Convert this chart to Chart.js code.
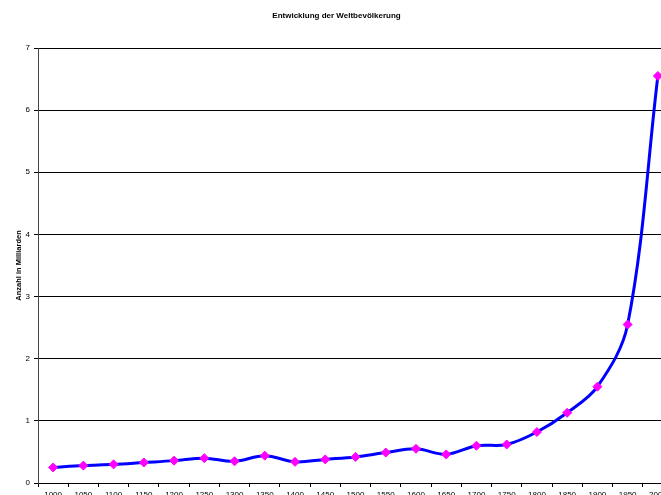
<!DOCTYPE html>
<html>
<head>
<meta charset="utf-8">
<script src="https://cdn.jsdelivr.net/npm/chart.js@4/dist/chart.umd.min.js"></script>
<style>
  html, body { margin: 0; padding: 0; background: #fff; overflow: hidden; }
  #wrap { width: 661px; height: 495px; overflow: hidden; position: relative; }
  canvas { display: block; }
</style>
</head>
<body>
<div id="wrap"><canvas id="c" width="680" height="505"></canvas></div>
<script>
// Weltbevölkerung in Milliarden, alle 50 Jahre
const years = ['1000','1050','1100','1150','1200','1250','1300','1350','1400','1450',
               '1500','1550','1600','1650','1700','1750','1800','1850','1900','1950','2000'];
const population = [0.25, 0.28, 0.30, 0.33, 0.36, 0.40, 0.35, 0.44, 0.34, 0.38,
                    0.42, 0.49, 0.55, 0.46, 0.60, 0.62, 0.82, 1.13, 1.55, 2.55, 6.55];
const yTicks = [0, 1, 2, 3, 4, 5, 6, 7];

const titleText = 'Entwicklung der Weltbevölkerung';
const yAxisTitle = 'Anzahl in Milliarden';
const FONT = '"Liberation Sans", Arial, sans-serif';

new Chart(document.getElementById('c'), {
  type: 'line',
  data: {
    labels: years,
    datasets: [{
      data: population,
      borderColor: '#0000FF',
      borderWidth: 3,
      tension: 0.35,
      fill: false,
      pointStyle: 'rectRot',
      pointRadius: 4.5,
      pointBackgroundColor: '#FF00FF',
      pointBorderColor: '#FF00FF',
      pointBorderWidth: 1
    }]
  },
  options: {
    responsive: false,
    animation: false,
    layout: { padding: { left: 0, right: 7, top: 0, bottom: 0 } },
    plugins: {
      legend: { display: false },
      tooltip: { enabled: false },
      title: {
        display: true,
        text: titleText,
        color: '#000',
        font: { family: FONT, size: 8, weight: 'bold', lineHeight: 1.2 },
        padding: { top: 11, bottom: 27.4 }
      }
    },
    scales: {
      x: {
        type: 'category',
        offset: true,
        afterFit: (scale) => { scale.height = 22; },
        grid: {
          offset: true,
          drawOnChartArea: false,
          drawTicks: true,
          tickLength: 4,
          color: '#000',
          lineWidth: 1
        },
        border: { display: true, color: '#000', width: 1 },
        ticks: {
          autoSkip: false,
          maxRotation: 0,
          minRotation: 0,
          padding: 3,
          color: '#000',
          font: { family: FONT, size: 8 }
        }
      },
      y: {
        min: 0,
        max: 7,
        afterFit: (scale) => { scale.width = 38; },
        afterBuildTicks: (scale) => { scale.ticks = yTicks.map(v => ({ value: v })); },
        grid: {
          color: '#000',
          lineWidth: 1,
          drawTicks: true,
          tickLength: 4
        },
        border: { display: true, color: '#444', width: 1 },
        ticks: {
          padding: 4,
          color: '#000',
          font: { family: FONT, size: 8 }
        },
        title: {
          display: true,
          text: yAxisTitle,
          color: '#000',
          font: { family: FONT, size: 7.5, weight: 'bold', lineHeight: 1.2 },
          padding: { top: 14, bottom: 0 }
        }
      }
    }
  }
});
</script>
</body>
</html>
